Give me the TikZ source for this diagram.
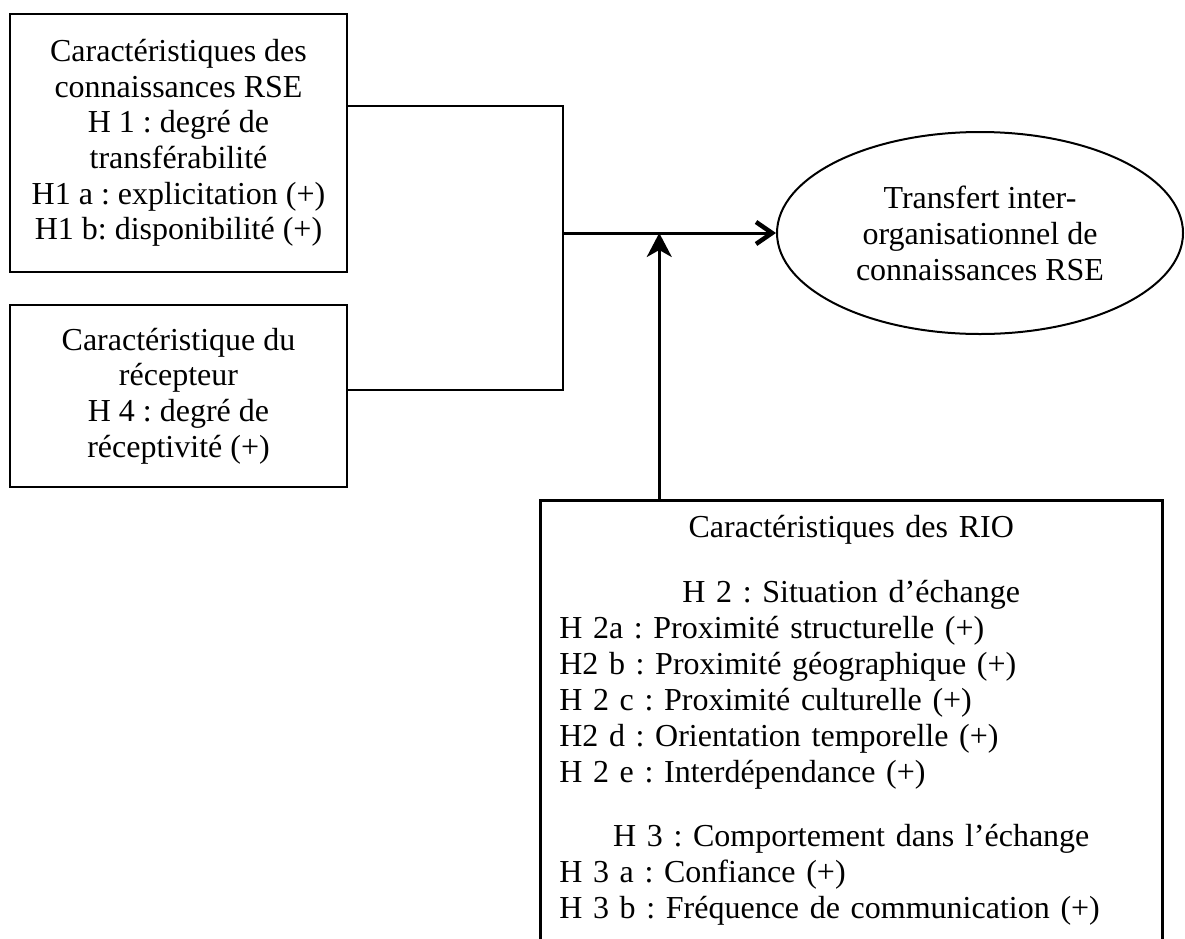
\documentclass[tikz,border=0pt]{standalone}
\usepackage{fontspec}
\setmainfont{Liberation Serif}
\frenchspacing
\usepackage{tikz}
\usetikzlibrary{shapes.geometric,arrows.meta}
\tikzstyle{facteur} = [rectangle, draw, line width=2.5pt, inner sep=0pt, align=center, font=\fontsize{32}{35.6}\selectfont]
\tikzstyle{lien} = [line width=2.8pt]
\tikzstyle{arrow} = [line width=3pt, -{Straight Barb[length=16pt, width=22pt, line width=4.5pt]}]
\tikzstyle{arrow_up} = [line width=3pt, -{Stealth[length=24pt, width=25pt, inset=7pt]}]

\begin{document}
\begin{tikzpicture}[x=1pt, y=-1pt]
    \useasboundingbox (0,0) rectangle (1185,938);
    \clip (0,0) rectangle (1185,938);

    \node (connaissances) [facteur, minimum width=337pt, minimum height=258pt] at (178.5,143) {Caractéristiques des\\connaissances RSE\\H 1 : degré de\\transférabilité\\H1 a : explicitation (+)\\H1 b: disponibilité (+)};
    \node (recepteur) [facteur, minimum width=337pt, minimum height=182pt] at (178.5,396) {Caractéristique du\\récepteur\\H 4 : degré de\\réceptivité (+)};
    \node (transfert) [ellipse, draw, line width=2pt, inner sep=0pt, minimum width=406pt, minimum height=202pt, align=center, font=\fontsize{32}{36}\selectfont] at (980,233) {Transfert inter-\\organisationnel de\\connaissances RSE};
    \node (rio) [facteur, anchor=north west, text width=584pt, inner xsep=19pt, inner ysep=15pt, align=left, font=\fontsize{32}{36}\selectfont] at (539,499) {%
        {\centering Caractéristiques des RIO\par}
        \vspace{29pt}
        {\centering H 2 : Situation d’échange\par}
        H 2a : Proximité structurelle (+)\\
        H2 b : Proximité géographique (+)\\
        H 2 c : Proximité culturelle (+)\\
        H2 d : Orientation temporelle (+)\\
        H 2 e : Interdépendance (+)\par
        \vspace{28pt}
        {\centering H 3 : Comportement dans l’échange\par}
        H 3 a : Confiance (+)\\
        H 3 b : Fréquence de communication (+)\rule[-60pt]{0pt}{60pt}};
    \coordinate (jonction) at (563,233);

    \draw [lien] ([yshift=37pt]connaissances.east) -| (jonction);
    \draw [lien] ([yshift=6pt]recepteur.east) -| (jonction);
    \draw [arrow] (jonction) -- (transfert.west);
    \draw [arrow_up] ([xshift=-192pt]rio.north) -- ([xshift=-192pt]rio.north |- jonction);

\end{tikzpicture}
\end{document}
